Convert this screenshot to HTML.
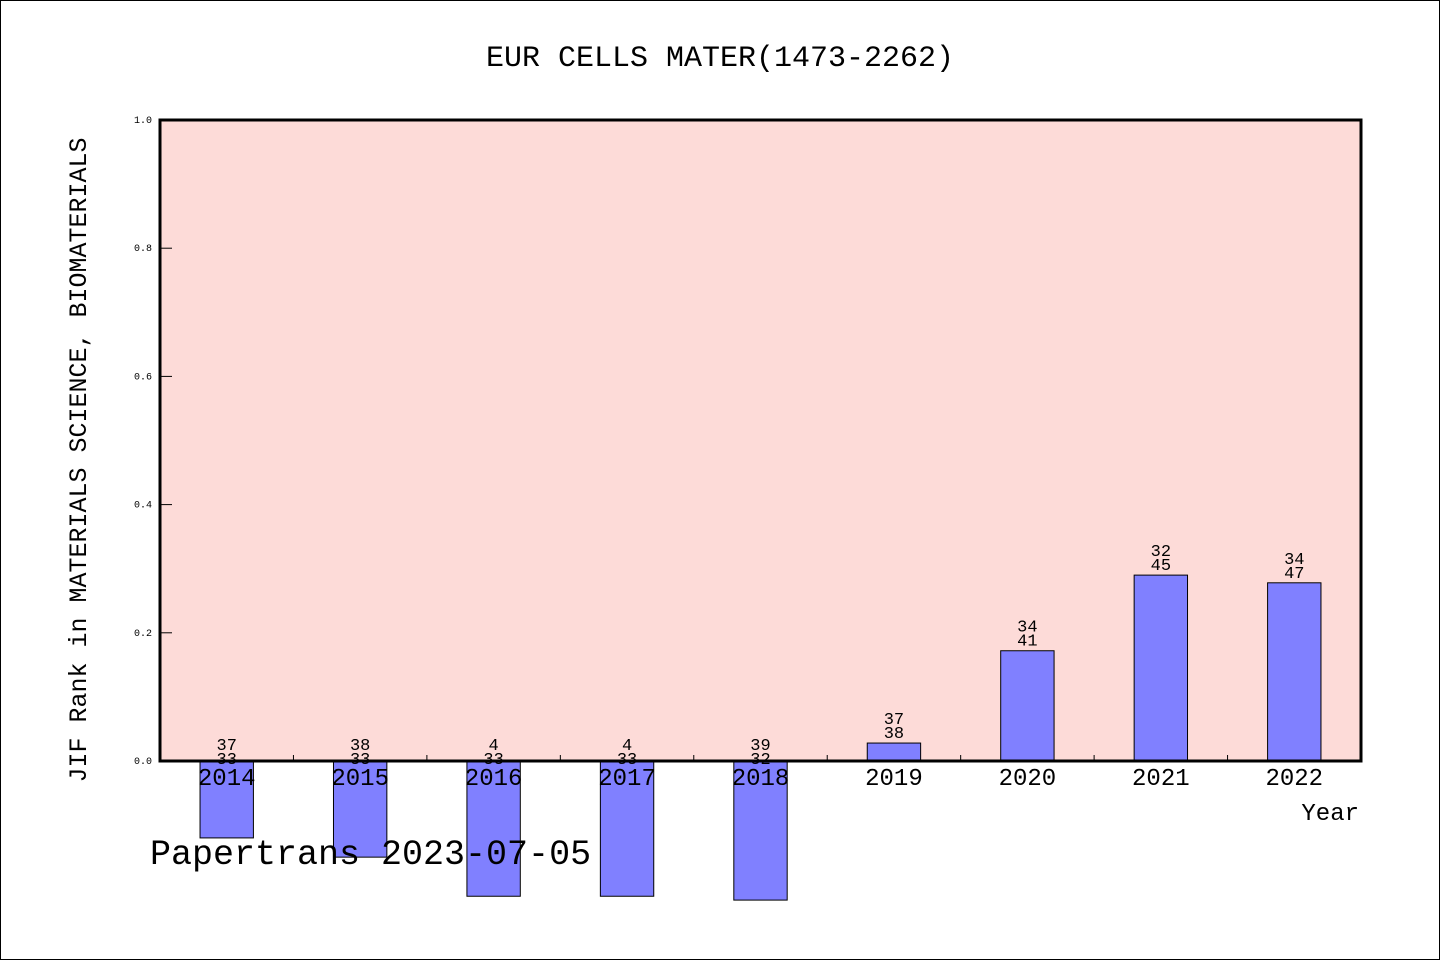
<!DOCTYPE html>
<html><head><meta charset="utf-8"><style>
html,body{margin:0;padding:0;background:#fff;}
svg{display:block;}
text{font-family:"Liberation Mono","DejaVu Sans Mono",monospace;fill:#000;}
</style></head><body>
<svg id="chart" width="1440" height="960" viewBox="0 0 1440 960">
<rect x="0.5" y="0.5" width="1439" height="959" fill="#fff" stroke="#000"/>
<text x="720" y="66" font-size="30" text-anchor="middle">EUR CELLS MATER(1473-2262)</text>
<rect x="160" y="120" width="1201" height="641" fill="#fddbd8"/>
<g id="yticks"></g>
<g id="bars"></g>
<rect x="160" y="120" width="1201" height="641" fill="none" stroke="#000" stroke-width="3"/>
<g id="xticks"></g>
<text transform="translate(86,460) rotate(-90)" font-size="25" text-anchor="middle">JIF Rank in MATERIALS SCIENCE, BIOMATERIALS</text>
<text x="1359" y="820" font-size="24" text-anchor="end">Year</text>
<text x="150" y="864" font-size="35">Papertrans 2023-07-05</text>
</svg>
<script>
const categories = ["2014","2015","2016","2017","2018","2019","2020","2021","2022"];
const values = [-0.12,-0.15,-0.211,-0.211,-0.217,0.028,0.172,0.29,0.278];
const topLabels = ["37","38","4","4","39","37","34","32","34"];
const bottomLabels = ["33","33","33","33","32","38","41","45","47"];
const yTickLabels = ["0.0","0.2","0.4","0.6","0.8","1.0"];
const yTickValues = [0,0.2,0.4,0.6,0.8,1.0];

const NS="http://www.w3.org/2000/svg";
const x0=160,x1=1361,yTop=120,yBot=761;
const band=(x1-x0)/categories.length;
function xC(i){return x0+band*(i+0.5);}
function y(v){return yBot-(v/1.0)*(yBot-yTop);}
function mk(tag,attrs,parent){const e=document.createElementNS(NS,tag);for(const k in attrs)e.setAttribute(k,attrs[k]);parent.appendChild(e);return e;}

const yt=document.getElementById("yticks");
yTickValues.forEach((v,i)=>{
  const l=mk("line",{x1:x0,x2:x0+12,y1:y(v),y2:y(v),stroke:"#000","stroke-width":1},yt);
  
  
  const t=mk("text",{x:x0-8,y:y(v)+3,"font-size":"10","text-anchor":"end","font-family":"DejaVu Sans, sans-serif"},yt);
  t.textContent=yTickLabels[i];
  
  
});

const bg=document.getElementById("bars");
const bw=band*0.4;
categories.forEach((c,i)=>{
  const v=values[i];
  const top=y(Math.max(v,0)),bot=y(Math.min(v,0));
  const r=mk("rect",{x:xC(i)-bw/2,y:top,width:bw,height:bot-top,fill:"#8080ff",stroke:"#000","stroke-width":1},bg);
  
  
  const base=v>=0?y(v)-11:y(0)-3;
  const b=mk("text",{x:xC(i),y:base+6,"font-size":"17","text-anchor":"middle"},bg);
  b.textContent=bottomLabels[i];
  
  
  const t=mk("text",{x:xC(i),y:base-8,"font-size":"17","text-anchor":"middle"},bg);
  t.textContent=topLabels[i];
  
  
});

const xt=document.getElementById("xticks");
for(let i=1;i<categories.length;i++){
  const l=mk("line",{x1:x0+band*i,x2:x0+band*i,y1:yBot,y2:yBot-6,stroke:"#000","stroke-width":1},xt);
  
  
}
categories.forEach((c,i)=>{
  const t=mk("text",{x:xC(i),y:785,"font-size":"24","text-anchor":"middle"},xt);
  t.textContent=c;
  
  
});
</script>
</body></html>
